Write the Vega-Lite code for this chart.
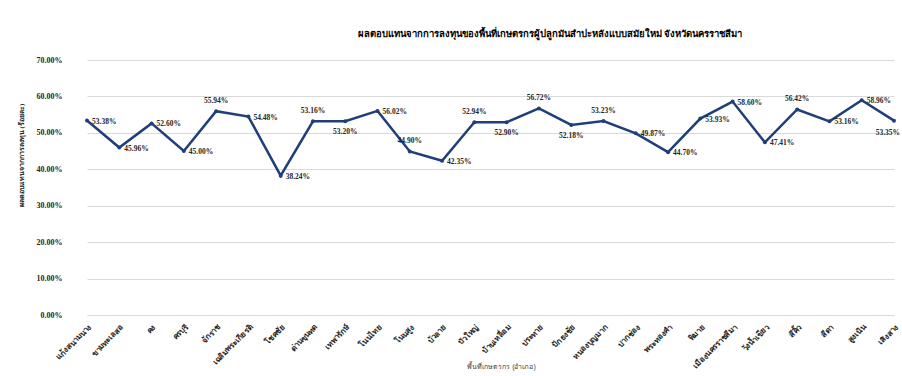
{
  "$schema": "https://vega.github.io/schema/vega-lite/v6.json",
  "width": 830,
  "height": 255,
  "autosize": "none",
  "padding": {"left": 72, "top": 60, "right": 0, "bottom": 61},
  "background": "white",
  "config": {"view": {"stroke": null}},
  "title": {
    "text": "ผลตอบแทนจากการลงทุนของพื้นที่เกษตรกรผู้ปลูกมันสำปะหลังแบบสมัยใหม่ จังหวัดนครราชสีมา",
    "font": "Liberation Serif",
    "fontSize": 9.5,
    "fontWeight": "bold",
    "color": "#000000",
    "anchor": "middle",
    "dx": 63,
    "offset": 18
  },
  "data": {
    "values": [
      {"district": "แก้งสนามนาง", "roi": 0.5338},
      {"district": "ขามทะเลสอ", "roi": 0.4596},
      {"district": "คง", "roi": 0.5260},
      {"district": "ครบุรี", "roi": 0.4500},
      {"district": "จักราช", "roi": 0.5594},
      {"district": "เฉลิมพระเกียรติ", "roi": 0.5448},
      {"district": "โชคชัย", "roi": 0.3824},
      {"district": "ด่านขุนทด", "roi": 0.5316},
      {"district": "เทพารักษ์", "roi": 0.5320},
      {"district": "โนนไทย", "roi": 0.5602},
      {"district": "โนนสูง", "roi": 0.4490},
      {"district": "บัวลาย", "roi": 0.4235},
      {"district": "บัวใหญ่", "roi": 0.5294},
      {"district": "บ้านเหลื่อม", "roi": 0.5290},
      {"district": "ประทาย", "roi": 0.5672},
      {"district": "ปักธงชัย", "roi": 0.5218},
      {"district": "หนองบุญมาก", "roi": 0.5323},
      {"district": "ปากช่อง", "roi": 0.4987},
      {"district": "พระทองคำ", "roi": 0.4470},
      {"district": "พิมาย", "roi": 0.5393},
      {"district": "เมืองนครราชสีมา", "roi": 0.5860},
      {"district": "วังน้ำเขียว", "roi": 0.4741},
      {"district": "สีคิ้ว", "roi": 0.5642},
      {"district": "สีดา", "roi": 0.5316},
      {"district": "สูงเนิน", "roi": 0.5896},
      {"district": "เสิงสาง", "roi": 0.5335}
    ]
  },
  "encoding": {
    "x": {
      "field": "district",
      "type": "ordinal",
      "sort": null,
      "scale": {"type": "point", "range": [15, 822], "padding": 0},
      "axis": {
        "title": "พื้นที่เกษตรกร (อำเภอ)",
        "titleFont": "Liberation Sans",
        "titleFontSize": 7,
        "titleFontWeight": "normal",
        "titleColor": "#404040",
        "titleX": 429,
        "titleY": 51,
        "titleBaseline": "middle",
        "labelAngle": -45,
        "labelFont": "Liberation Serif",
        "labelFontSize": 8,
        "labelFontWeight": "bold",
        "labelColor": "#262626",
        "labelPadding": 8,
        "labelOverlap": false,
        "ticks": false,
        "domain": true,
        "domainColor": "#d9d9d9",
        "grid": false
      }
    },
    "y": {
      "field": "roi",
      "type": "quantitative",
      "scale": {"domain": [0, 0.7], "nice": false},
      "axis": {
        "title": "ผลตอบแทนจากการลงทุน (ร้อยละ)",
        "titleFont": "Liberation Serif",
        "titleFontSize": 7,
        "titleFontWeight": "bold",
        "titleColor": "#262626",
        "titleY": 95,
        "titlePadding": 12,
        "format": ".2%",
        "values": [0, 0.1, 0.2, 0.3, 0.4, 0.5, 0.6, 0.7],
        "labelFont": "Liberation Serif",
        "labelFontSize": 8,
        "labelFontWeight": "bold",
        "labelColor": "#262626",
        "labelPadding": 10,
        "ticks": false,
        "domain": false,
        "grid": true,
        "gridColor": "#d9d9d9",
        "gridWidth": 1
      }
    }
  },
  "layer": [
    {
      "mark": {"type": "line", "color": "#203F7A", "strokeWidth": 2.5}
    },
    {
      "mark": {"type": "point", "filled": true, "color": "#203F7A", "size": 16, "opacity": 1}
    },
    {
      "transform": [{"filter": {"not": {"field": "district", "oneOf": ["จักราช", "ด่านขุนทด", "บัวใหญ่", "ประทาย", "หนองบุญมาก", "สีคิ้ว", "โนนสูง", "เทพารักษ์", "บ้านเหลื่อม", "ปักธงชัย", "เสิงสาง"]}}}],
      "mark": {"type": "text", "align": "left", "baseline": "middle", "dx": 5, "dy": 1, "font": "Liberation Serif", "fontSize": 7.5, "fontWeight": "bold", "color": "#262626"},
      "encoding": {"text": {"field": "roi", "type": "quantitative", "format": ".2%"}}
    },
    {
      "transform": [{"filter": {"field": "district", "oneOf": ["จักราช", "ด่านขุนทด", "บัวใหญ่", "ประทาย", "หนองบุญมาก", "สีคิ้ว", "โนนสูง"]}}],
      "mark": {"type": "text", "align": "center", "baseline": "bottom", "dy": -6, "font": "Liberation Serif", "fontSize": 7.5, "fontWeight": "bold", "color": "#262626"},
      "encoding": {"text": {"field": "roi", "type": "quantitative", "format": ".2%"}}
    },
    {
      "transform": [{"filter": {"field": "district", "oneOf": ["เทพารักษ์", "บ้านเหลื่อม", "ปักธงชัย"]}}],
      "mark": {"type": "text", "align": "center", "baseline": "top", "dy": 7, "font": "Liberation Serif", "fontSize": 7.5, "fontWeight": "bold", "color": "#262626"},
      "encoding": {"text": {"field": "roi", "type": "quantitative", "format": ".2%"}}
    },
    {
      "transform": [{"filter": {"field": "district", "oneOf": ["เสิงสาง"]}}],
      "mark": {"type": "text", "align": "right", "baseline": "top", "dx": 6, "dy": 8, "font": "Liberation Serif", "fontSize": 7.5, "fontWeight": "bold", "color": "#262626"},
      "encoding": {"text": {"field": "roi", "type": "quantitative", "format": ".2%"}}
    }
  ]
}
